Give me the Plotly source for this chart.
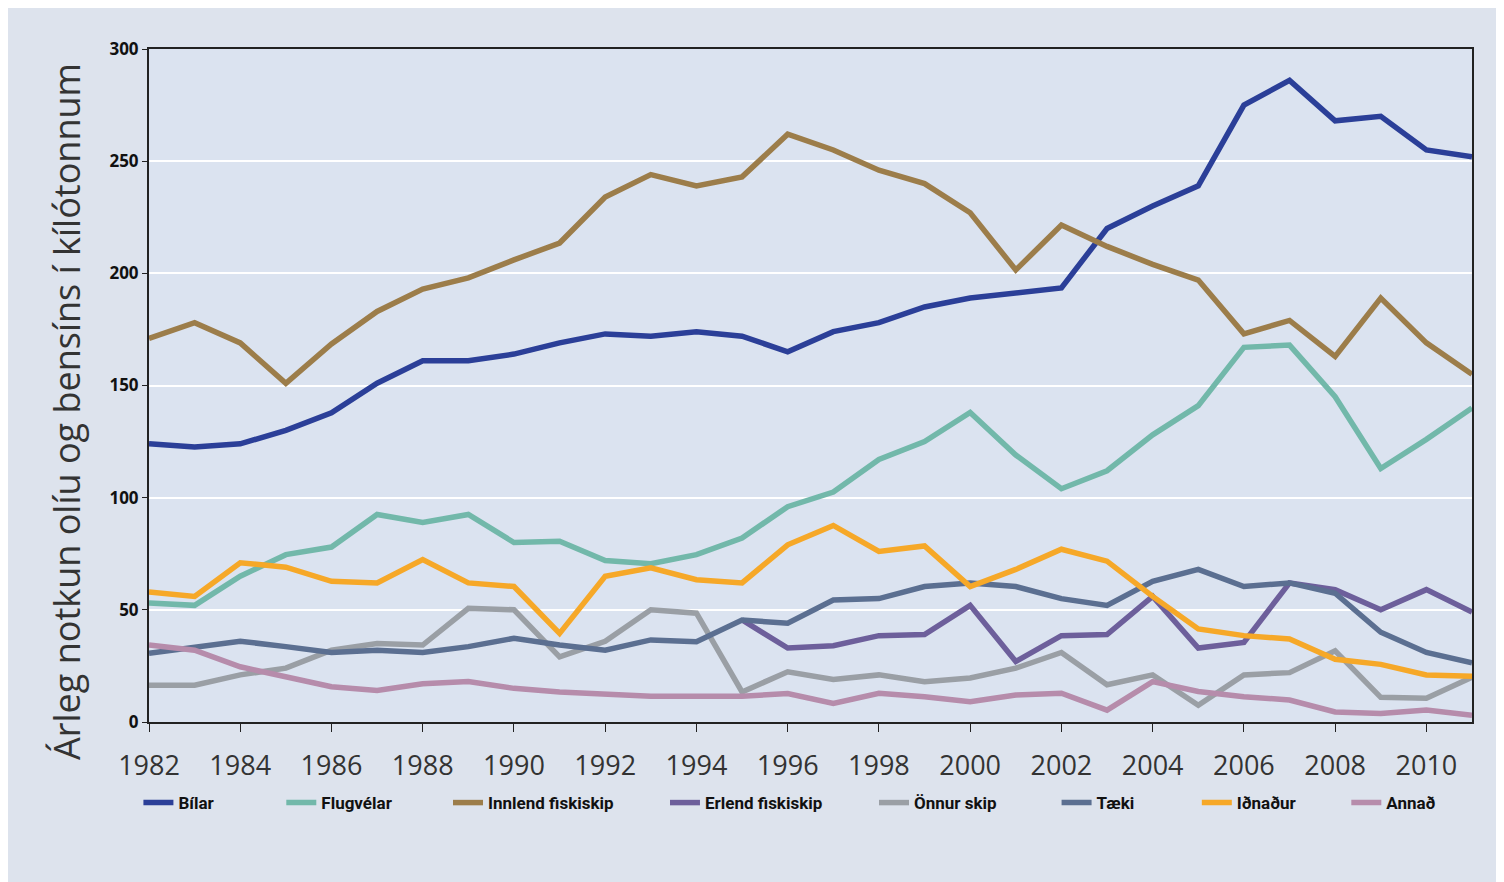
import plotly.graph_objects as go

years = list(range(1982, 2012))

bilar = [124, 122.6, 124, 130, 137.8, 151, 161, 161, 164, 169, 173, 172, 174, 172, 165,
         174, 178, 185, 189, 191, 193.5, 220, 230, 239, 275, 286, 268, 270, 255, 252]
flugvelar = [53, 52, 65, 74.6, 78, 92.5, 89, 92.5, 80, 80.6, 72, 70.6, 74.6, 82, 96,
             102.5, 117, 125, 138, 119, 104, 112, 128, 141, 167, 168, 145, 113, 126, 140]
innlend = [171, 178, 169, 151, 168.5, 183, 193, 198, 206, 213.5, 234, 244, 239, 243, 262,
           255, 246, 240, 227, 201.5, 221.5, 212, 204, 197, 173, 179, 163, 189, 169, 155]
erlend = [None] * 13 + [45.5, 33,
          34, 38.5, 39, 52, 27, 38.5, 39, 56, 33, 35.5, 62, 59, 50, 59, 49]
onnur = [16.4, 16.4, 21, 24, 32, 35, 34.3, 50.7, 50, 29, 36, 50, 48.5, 13.4, 22.4,
         19, 21, 18, 19.6, 24, 31, 16.6, 21, 7.5, 21, 22, 31.7, 11, 10.6, 20]
taeki = [30.6, 33.6, 36, 33.6, 31, 32, 31, 33.6, 37.3, 34.3, 32, 36.6, 35.8, 45.5, 44,
         54.4, 55, 60.4, 62, 60.4, 55, 52, 62.7, 68, 60.4, 62, 57.4, 40, 31, 26.4]
idnadur = [58, 56, 71, 69, 62.7, 62, 72.4, 62, 60.4, 39.5, 65, 68.7, 63.4, 62, 79,
           87.6, 76, 78.5, 60.4, 68, 77, 71.7, 56, 41.5, 38.5, 37, 28, 25.7, 21, 20.4]
annad = [34.3, 32, 24.6, 20, 15.7, 14, 17, 18, 15, 13.4, 12.7, 11.5, 11.5, 11.5, 12.7,
         8.3, 12.8, 11.3, 9, 12, 12.8, 5.3, 18, 13.6, 11.3, 9.8, 4.5, 3.8, 5.3, 3]

names = ["Bílar", "Flugvélar", "Innlend fiskiskip", "Erlend fiskiskip",
         "Önnur skip", "Tæki", "Iðnaður", "Annað"]
values = [bilar, flugvelar, innlend, erlend, onnur, taeki, idnadur, annad]
colors = ["#2b3f98", "#72b8aa", "#9c7d4a", "#6d5f9b",
          "#9a9fa5", "#5b6f91", "#f6a828", "#b68cab"]
legend_x = [-0.008, 0.100, 0.226, 0.390, 0.548, 0.686, 0.792, 0.905]

fig = go.Figure()
layout_legends = {}
for i, (name, vals, col) in enumerate(zip(names, values, colors)):
    lid = "legend" if i == 0 else f"legend{i + 1}"
    fig.add_trace(go.Scatter(
        x=years, y=vals, name=name, mode="lines",
        line=dict(color=col, width=5.5), connectgaps=False, legend=lid,
    ))
    layout_legends[lid] = dict(
        orientation="h", x=legend_x[i], xref="paper", xanchor="left",
        y=-0.1204, yanchor="middle",
        font=dict(size=17, family="Roboto", color="#111", weight="bold"),
        bgcolor="rgba(0,0,0,0)",
    )

fig.update_layout(
    width=1504, height=882,
    paper_bgcolor="#dde3ed",
    plot_bgcolor="#dbe3f0",
    margin=dict(l=141, r=40, t=41, b=168),
    font=dict(family="Open Sans", color="#222"),
    showlegend=True,
    **layout_legends,
)
fig.add_annotation(
    text="Árleg notkun olíu og bensíns í kílótonnum",
    xref="paper", yref="paper", x=(58 - 141) / 1323, y=(673 - (412 - 8 - 41)) / 673,
    xanchor="center", yanchor="middle", textangle=-90, showarrow=False,
    font=dict(size=36, color="#333", family="Open Sans"),
)
fig.update_xaxes(
    range=[1982, 2011], tickmode="linear", tick0=1982, dtick=2,
    showgrid=False, showline=True, linecolor="#222", linewidth=2, mirror=True,
    ticks="outside", ticklen=8, tickcolor="#222", ticklabelstandoff=11,
    tickfont=dict(size=27, color="#333", family="Open Sans"),
    zeroline=False,
)
fig.update_yaxes(
    range=[0, 300], tickmode="linear", tick0=0, dtick=50,
    showgrid=True, gridcolor="#ffffff", gridwidth=2,
    showline=True, linecolor="#222", linewidth=2, mirror=True,
    ticks="outside", ticklen=5, tickcolor="#222",
    tickfont=dict(size=17, color="#111", family="Open Sans", weight="bold"),
    zeroline=False,
)

fig.write_html("out.html")
